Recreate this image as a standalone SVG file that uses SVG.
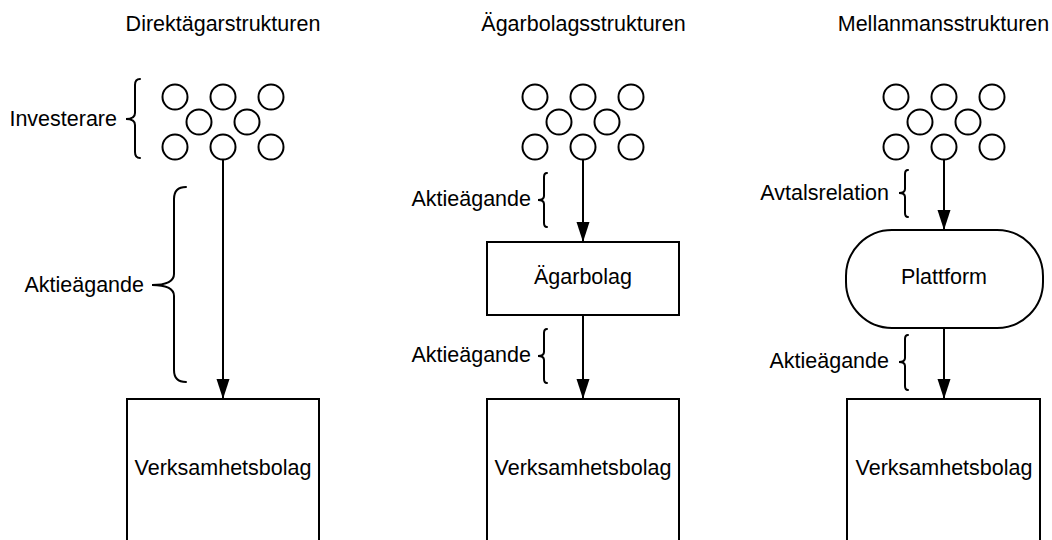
<svg xmlns="http://www.w3.org/2000/svg" width="1052" height="540" viewBox="0 0 1052 540">
<style>
text{font-family:"Liberation Sans",Arial,sans-serif;font-size:21.5px;fill:#000}
.t{text-anchor:middle}
.r{text-anchor:end}
.s{fill:#fff;stroke:#000;stroke-width:2}
.b{fill:none;stroke:#000;stroke-width:2;stroke-linecap:round}
.c{stroke:#000;stroke-width:2;fill:none}
</style>
<defs>
<marker id="ah" markerUnits="userSpaceOnUse" markerWidth="20" markerHeight="14" refX="20" refY="6.5" orient="auto">
<path d="M0,0 L20,6.5 L0,13 z" fill="#000"/>
</marker>
<g id="inv">
<circle cx="-48" cy="0" r="12.5" class="s"/>
<circle cx="0" cy="0" r="12.5" class="s"/>
<circle cx="48" cy="0" r="12.5" class="s"/>
<circle cx="-24" cy="25" r="12.5" class="s"/>
<circle cx="24" cy="25" r="12.5" class="s"/>
<circle cx="-48" cy="50" r="12.5" class="s"/>
<circle cx="0" cy="50" r="12.5" class="s"/>
<circle cx="48" cy="50" r="12.5" class="s"/>
</g>
</defs>
<rect width="1052" height="540" fill="#fff"/>

<g id="titles">
<text class="t" x="223" y="31">Direktägarstrukturen</text>
<text class="t" x="583.5" y="31">Ägarbolagsstrukturen</text>
<text class="t" x="943.5" y="31">Mellanmansstrukturen</text>
</g>

<g id="investors-1"><use href="#inv" x="223" y="97"/></g>
<g id="investors-2"><use href="#inv" x="583" y="97"/></g>
<g id="investors-3"><use href="#inv" x="944" y="97"/></g>

<g id="verksamhetsbolag-1"><rect class="s" x="127" y="399" width="192" height="200"/><text class="t" x="223" y="475">Verksamhetsbolag</text></g>
<g id="agarbolag"><rect class="s" x="487" y="242" width="192" height="73"/><text class="t" x="583" y="284">Ägarbolag</text></g>
<g id="verksamhetsbolag-2"><rect class="s" x="487" y="399" width="192" height="200"/><text class="t" x="583" y="475">Verksamhetsbolag</text></g>
<g id="plattform"><rect class="s" x="846" y="230" width="197" height="98" rx="46" ry="46"/><text class="t" x="944" y="284">Plattform</text></g>
<g id="verksamhetsbolag-3"><rect class="s" x="847" y="399" width="193" height="200"/><text class="t" x="944" y="475">Verksamhetsbolag</text></g>

<g id="connectors">
<line class="c" x1="223" y1="159" x2="223" y2="399" marker-end="url(#ah)"/>
<line class="c" x1="583" y1="159" x2="583" y2="242" marker-end="url(#ah)"/>
<line class="c" x1="583" y1="315" x2="583" y2="399" marker-end="url(#ah)"/>
<line class="c" x1="944" y1="159" x2="944" y2="230" marker-end="url(#ah)"/>
<line class="c" x1="944" y1="328" x2="944" y2="399" marker-end="url(#ah)"/>
</g>

<g id="labels">
<g id="lbl-investerare">
<path class="b" d="M140,79 Q135,79 135,85 L135,113 Q135,119 126,119 Q135,119 135,125 L135,152 Q135,158 140,158"/>
<text class="r" x="117" y="126">Investerare</text>
</g>
<g id="lbl-aktie-1">
<path class="b" d="M186,187 Q174,187 174,199 L174,274 Q174,285 152,285 Q174,285 174,296 L174,370 Q174,382 186,382"/>
<text class="r" x="144" y="292">Aktieägande</text>
</g>
<g id="lbl-aktie-2">
<path class="b" d="M547,173 Q544,173 544,177 L544,196 Q544,200 538,200 Q544,200 544,204 L544,223 Q544,227 547,227"/>
<text class="r" x="531" y="206">Aktieägande</text>
</g>
<g id="lbl-aktie-3">
<path class="b" d="M547,329 Q544,329 544,333 L544,352 Q544,356 538,356 Q544,356 544,360 L544,379 Q544,383 547,383"/>
<text class="r" x="531" y="362">Aktieägande</text>
</g>
<g id="lbl-avtal">
<path class="b" d="M908,170 Q905,170 905,174 L905,189 Q905,193 899,193 Q905,193 905,197 L905,213 Q905,217 908,217"/>
<text class="r" x="889" y="200">Avtalsrelation</text>
</g>
<g id="lbl-aktie-4">
<path class="b" d="M908,335 Q905,335 905,339 L905,358 Q905,362 899,362 Q905,362 905,366 L905,386 Q905,390 908,390"/>
<text class="r" x="889" y="368">Aktieägande</text>
</g>
</g>
</svg>
